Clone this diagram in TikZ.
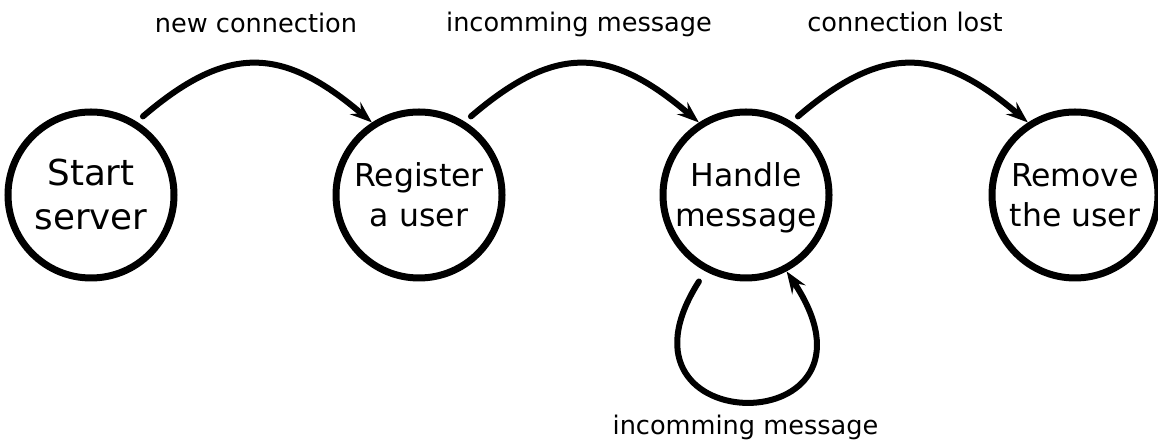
\documentclass[tikz,border=0pt]{standalone}
\usepackage{fontspec}
\setmainfont{DejaVu Sans}
\usetikzlibrary{arrows.meta}
\begin{document}
\begin{tikzpicture}[x=1pt,y=1pt,
  state/.style={circle, draw, line width=7pt, minimum size=166pt, inner sep=0pt,
    align=center, font=\fontsize{31.5}{40}\selectfont},
  trans/.style={line width=6pt, line cap=round,
    -{Stealth[length=22pt,width=16pt,inset=8pt]}, shorten <=8pt},
  lbl/.style={font=\fontsize{25.6}{30}\selectfont, anchor=base, inner sep=0pt}]
\useasboundingbox (0,0) rectangle (1158,441);

% states
\node[state, font=\fontsize{35.7}{44}\selectfont] (start) at (91,246) {Start\\server};
\node[state] (reg) at (419,246) {Register\\a user};
\node[state] (handle) at (746,246) {Handle\\\smash{message}};
\node[state] (remove) at (1075,246) {Remove\\the user};

% transitions
\draw[trans] (start.58) .. controls +(90,77) and +(-90,77) .. (reg.123);
\draw[trans] (reg.58) .. controls +(90,77) and +(-90,77) .. (handle.123);
\draw[trans] (handle.58) .. controls +(90,77) and +(-90,77) .. (remove.123);
\draw[trans, shorten <=12pt] (handle.-118) .. controls +(-110,-172) and +(115,-172) .. (handle.-62);

% transition labels
\node[lbl] (l1) at (256,408) {new connection};
\node[lbl] (l2) at (579,409) {incomming message};
\node[lbl] (l3) at (905,409) {connection lost};
\node[lbl] (l4) at (745.5,6) {incomming message};
\end{tikzpicture}
\end{document}
